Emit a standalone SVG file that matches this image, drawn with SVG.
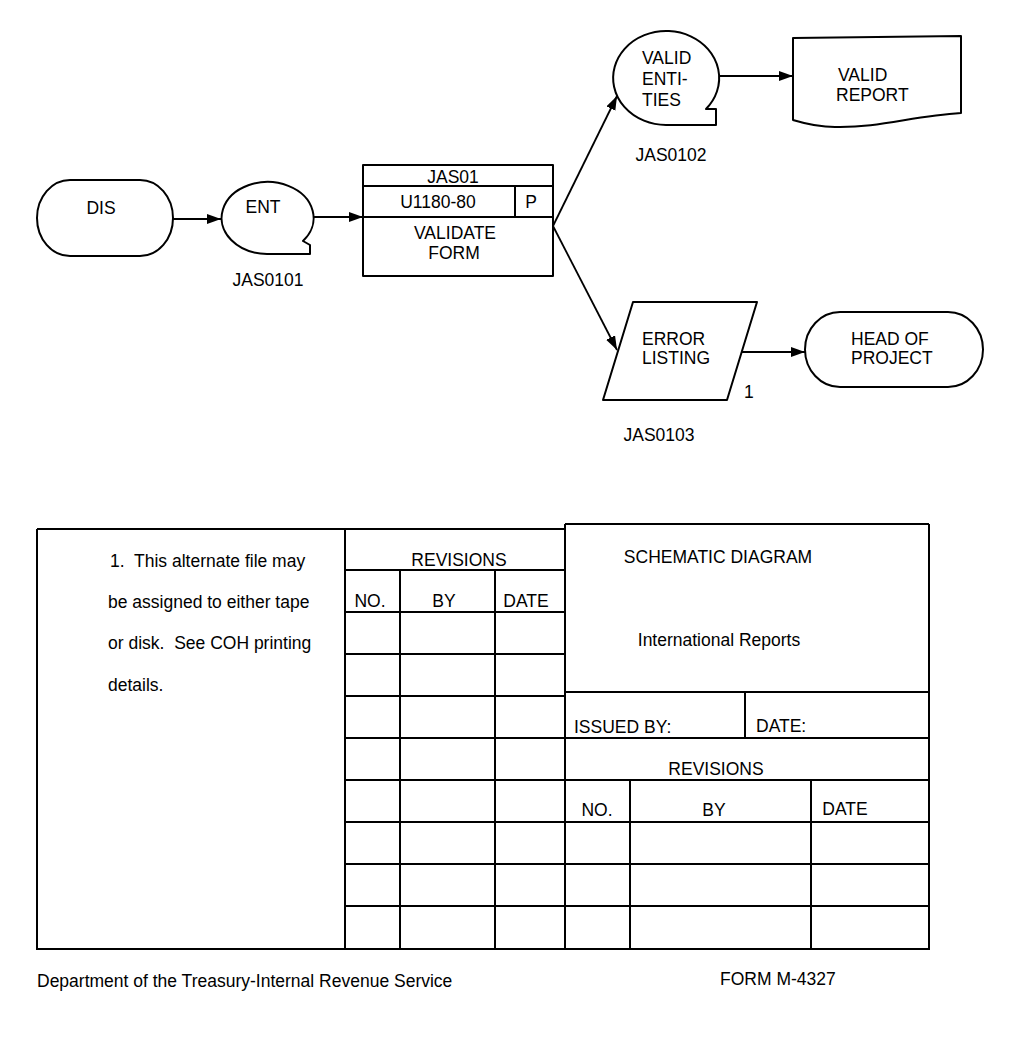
<svg xmlns="http://www.w3.org/2000/svg" width="1012" height="1057" viewBox="0 0 1012 1057">
<style>
  .s{fill:none;stroke:#000;stroke-width:2;stroke-linejoin:round}
  .t{font-family:"Liberation Sans",Arial,Helvetica,sans-serif;font-size:17.5px;fill:#000}
  .m{text-anchor:middle}
  .g{stroke:#000;stroke-width:2;fill:none}
  .c{stroke:#000;stroke-width:1.8;fill:none}
</style>
<defs>
  <marker id="ah" markerUnits="userSpaceOnUse" markerWidth="16" markerHeight="12" refX="14" refY="5" orient="auto">
    <path d="M0 0 L14 5 L0 10 Z" fill="#000"/>
  </marker>
</defs>
<rect width="1012" height="1057" fill="#fff"/>

<g id="dis">
  <path class="s" d="M70 180 H140 A33 38 0 0 1 140 256 H70 A33 38 0 0 1 70 180 Z"/>
  <text class="t m" x="101" y="214">DIS</text>
</g>

<g id="ent">
  <path class="s" d="M267 254 A46 36 0 1 1 303 241 L310 245 L310 254 Z"/>
  <text class="t m" x="263" y="213">ENT</text>
  <text class="t m" x="268" y="286">JAS0101</text>
</g>

<g id="validate">
  <rect class="s" x="363" y="165" width="190" height="111"/>
  <line class="g" x1="363" y1="186" x2="553" y2="186"/>
  <line class="g" x1="363" y1="217" x2="553" y2="217"/>
  <line class="g" x1="515" y1="186" x2="515" y2="217"/>
  <text class="t m" x="453" y="183">JAS01</text>
  <text class="t m" x="438" y="208">U1180-80</text>
  <text class="t m" x="531" y="208">P</text>
  <text class="t m" x="455" y="239">VALIDATE</text>
  <text class="t m" x="454" y="259">FORM</text>
</g>

<g id="valid-entities">
  <path class="s" d="M666 125 A53 47 0 1 1 706 109 L716 109 L716 125 Z"/>
  <text class="t" x="642" y="64">VALID</text>
  <text class="t" x="642" y="85">ENTI-</text>
  <text class="t" x="642" y="106">TIES</text>
  <text class="t m" x="671" y="161">JAS0102</text>
</g>

<g id="valid-report">
  <path class="s" d="M793 120 V38 L961 36 V113 C912 116 880 128 835 127 C815 127 803 123 793 120 Z"/>
  <text class="t" x="838" y="81">VALID</text>
  <text class="t" x="836" y="101">REPORT</text>
</g>

<g id="error-listing">
  <path class="s" d="M633 302 H757 L727 400 H603 Z"/>
  <text class="t" x="642" y="345">ERROR</text>
  <text class="t" x="642" y="364">LISTING</text>
  <text class="t" x="744" y="398">1</text>
  <text class="t m" x="659" y="441">JAS0103</text>
</g>

<g id="head-of-project">
  <path class="s" d="M840 312 H948 A35 37.5 0 0 1 948 387 H840 A35 37.5 0 0 1 840 312 Z"/>
  <text class="t" x="851" y="345">HEAD OF</text>
  <text class="t" x="851" y="364">PROJECT</text>
</g>

<g id="connectors">
  <path class="c" d="M173 219 L221 219" marker-end="url(#ah)"/>
  <path class="c" d="M313 217 L363 217" marker-end="url(#ah)"/>
  <path class="c" d="M553 226 L617 96" marker-end="url(#ah)"/>
  <path class="c" d="M553 226 L617 350" marker-end="url(#ah)"/>
  <path class="c" d="M719 76 L793 76" marker-end="url(#ah)"/>
  <path class="c" d="M742 352 L805 352" marker-end="url(#ah)"/>
</g>

<g id="title-block">
  <path class="g" d="M37 529 H565 M565 524 H929 M37 529 V949 H929 V524 M345 529 V949 M565 524 V949"/>
  <path class="g" d="M345 570 H565 M345 612 H565 M345 654 H565 M345 696 H565 M565 692 H929 M345 738 H929 M345 780 H929 M345 822 H929 M345 864 H929 M345 906 H929"/>
  <path class="g" d="M400 570 V949 M495 570 V949 M745 692 V738 M630 780 V949 M811 780 V949"/>

  <text class="t" x="110" y="567" xml:space="preserve">1.  This alternate file may</text>
  <text class="t" x="108" y="608">be assigned to either tape</text>
  <text class="t" x="108" y="649" xml:space="preserve">or disk.  See COH printing</text>
  <text class="t" x="108" y="691">details.</text>

  <text class="t m" x="459" y="566">REVISIONS</text>
  <text class="t m" x="370" y="607">NO.</text>
  <text class="t m" x="444" y="607">BY</text>
  <text class="t m" x="526" y="607">DATE</text>

  <text class="t m" x="718" y="563">SCHEMATIC DIAGRAM</text>
  <text class="t m" x="719" y="646">International Reports</text>
  <text class="t" x="574" y="733">ISSUED BY:</text>
  <text class="t" x="756" y="732">DATE:</text>
  <text class="t m" x="716" y="775">REVISIONS</text>
  <text class="t m" x="597" y="816">NO.</text>
  <text class="t m" x="714" y="816">BY</text>
  <text class="t m" x="845" y="815">DATE</text>

  <text class="t" x="37" y="987">Department of the Treasury-Internal Revenue Service</text>
  <text class="t" x="720" y="985">FORM M-4327</text>
</g>
</svg>
